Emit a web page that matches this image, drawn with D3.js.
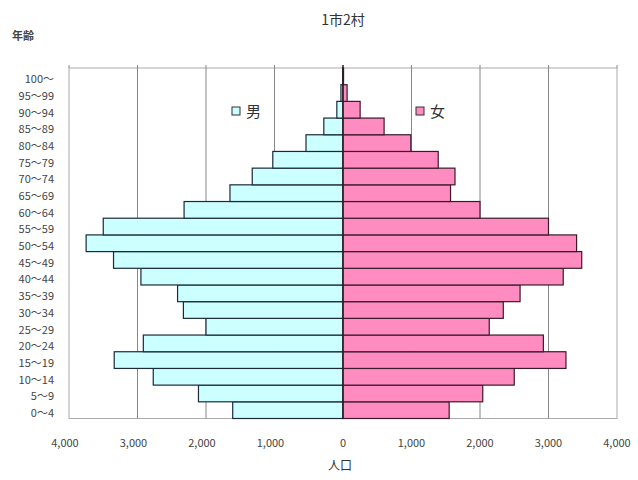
<!DOCTYPE html>
<html>
<head>
<meta charset="utf-8">
<script src="https://cdn.jsdelivr.net/npm/d3@7/dist/d3.min.js"></script>
<style>
  html, body { margin: 0; padding: 0; background: #fff; }
  svg { display: block; font-family: "Noto Sans CJK JP", "Noto Sans", sans-serif; }
</style>
</head>
<body>
<svg id="chart" width="638" height="480"></svg>
<script>
// Age groups, youngest first (drawn bottom to top)
const ageGroups = ["0～4","5～9","10～14","15～19","20～24","25～29","30～34","35～39","40～44","45～49",
                   "50～54","55～59","60～64","65～69","70～74","75～79","80～84","85～89","90～94","95～99","100～"];
// Population by age group
const male   = [1610, 2110, 2770, 3340, 2915, 2000, 2330, 2415, 2950, 3350,
                3750, 3500, 2320, 1650, 1325, 1025, 540, 280, 90, 30, 5];
const female = [1550, 2040, 2500, 3255, 2925, 2135, 2340, 2585, 3215, 3485,
                3410, 3000, 2000, 1570, 1635, 1390, 990, 600, 250, 60, 8];
// Value axis ticks (labels show absolute values on both sides)
const xTicks = [-4000, -3000, -2000, -1000, 0, 1000, 2000, 3000, 4000];

const svg = d3.select("#chart");
const plot = { left: 69, right: 617, top: 68, bottom: 418.5 };

const x = d3.scaleLinear().domain([-4000, 4000]).range([plot.left, plot.right]);
const y = d3.scaleBand().domain(ageGroups.slice().reverse()).range([plot.top, plot.bottom]).padding(0);

const fmt = d3.format(",");

// Title and axis titles
svg.append("text").attr("x", 343).attr("y", 25).attr("text-anchor", "middle")
  .attr("font-size", 14).attr("fill", "#333").text("1市2村");
svg.append("text").attr("x", 12).attr("y", 40)
  .attr("font-size", 11).attr("font-weight", "bold").attr("fill", "#444").text("年齢");
svg.append("text").attr("x", 340).attr("y", 470).attr("text-anchor", "middle")
  .attr("font-size", 12).attr("fill", "#333").text("人口");

// Plot frame
svg.append("rect").attr("x", plot.left).attr("y", plot.top)
  .attr("width", plot.right - plot.left).attr("height", plot.bottom - plot.top)
  .attr("fill", "#fff").attr("stroke", "#aaa").attr("stroke-width", 1);

// Vertical gridlines
svg.append("g").selectAll("line").data(xTicks.filter(d => Math.abs(d) < 4000 && d !== 0)).join("line")
  .attr("x1", d => x(d)).attr("x2", d => x(d))
  .attr("y1", plot.top).attr("y2", plot.bottom)
  .attr("stroke", "#888").attr("stroke-width", 1);

// Small tick marks above the frame
svg.append("g").selectAll("line").data(xTicks).join("line")
  .attr("x1", d => x(d)).attr("x2", d => x(d))
  .attr("y1", plot.top - 3).attr("y2", plot.top)
  .attr("stroke", "#888").attr("stroke-width", 1);

// Bars
const rows = ageGroups.map((g, i) => ({ g, m: male[i], f: female[i] }));

svg.append("g").selectAll("rect").data(rows).join("rect")
  .attr("x", d => x(-d.m)).attr("y", d => y(d.g))
  .attr("width", d => x(0) - x(-d.m)).attr("height", y.bandwidth())
  .attr("fill", "#ccffff").attr("stroke", "#1a2a3a").attr("stroke-width", 1.2);

svg.append("g").selectAll("rect").data(rows).join("rect")
  .attr("x", x(0)).attr("y", d => y(d.g))
  .attr("width", d => x(d.f) - x(0)).attr("height", y.bandwidth())
  .attr("fill", "#ff8cc0").attr("stroke", "#3a1a2a").attr("stroke-width", 1.2);

// Zero line
svg.append("line").attr("x1", x(0)).attr("x2", x(0))
  .attr("y1", plot.top - 3).attr("y2", plot.bottom)
  .attr("stroke", "#222").attr("stroke-width", 1.3);

// Age group labels
svg.append("g").selectAll("text").data(ageGroups).join("text")
  .attr("x", 54).attr("y", d => y(d) + y.bandwidth() / 2 + 3)
  .attr("dy", "0.35em").attr("text-anchor", "end")
  .attr("font-size", 11).attr("fill", "#444").text(d => d);

// Value labels along the bottom
svg.append("g").selectAll("text").data(xTicks).join("text")
  .attr("x", d => x(d) - (d < 0 ? 4 : 0)).attr("y", 447)
  .attr("text-anchor", "middle").attr("font-size", 11).attr("fill", "#444")
  .text(d => fmt(Math.abs(d)));

// Legend
const legend = [
  { label: "男", fill: "#ccffff", x: 232 },
  { label: "女", fill: "#ff8cc0", x: 416 }
];
const lg = svg.append("g").selectAll("g").data(legend).join("g");
lg.append("rect").attr("x", d => d.x).attr("y", 107).attr("width", 8).attr("height", 8)
  .attr("fill", d => d.fill).attr("stroke", "#333").attr("stroke-width", 1);
lg.append("text").attr("x", d => d.x + 14).attr("y", 117)
  .attr("font-size", 15).attr("fill", "#333").text(d => d.label);
</script>
</body>
</html>
